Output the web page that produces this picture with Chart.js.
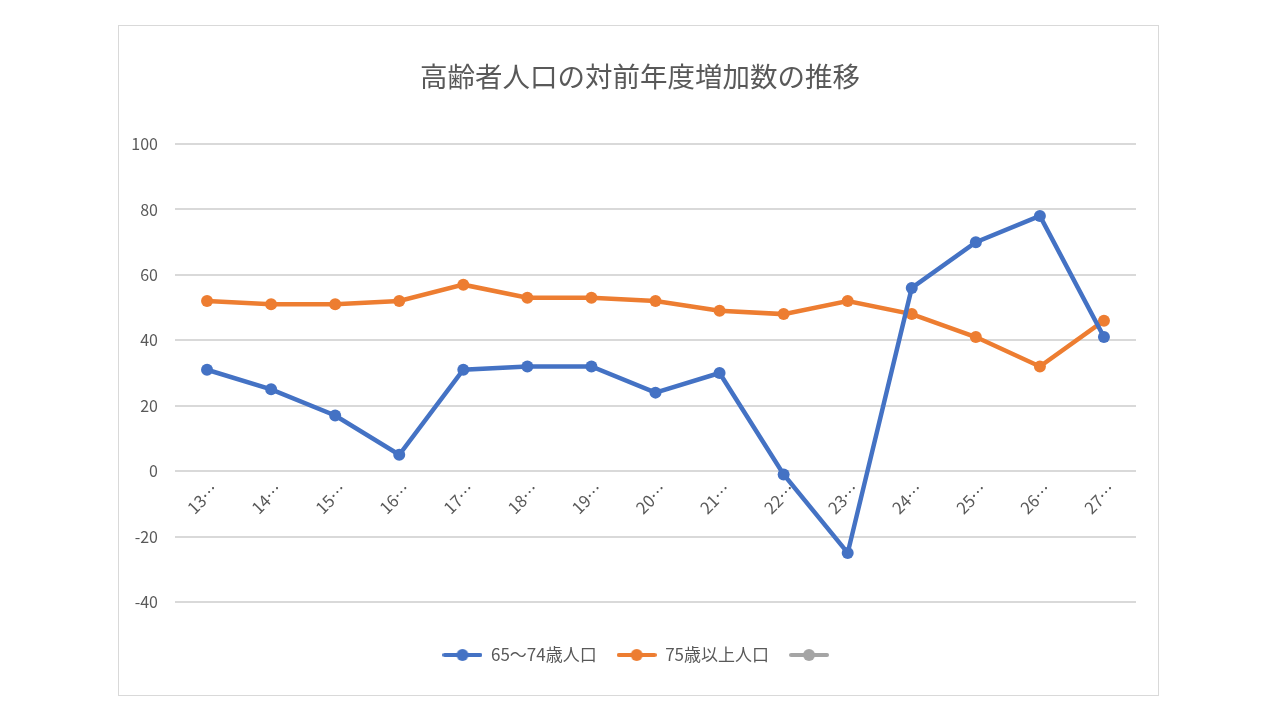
<!DOCTYPE html>
<html>
<head>
<meta charset="utf-8">
<script src="https://cdn.jsdelivr.net/npm/chart.js@4"></script>
<style>
  html, body { margin: 0; padding: 0; background: #ffffff; }
  canvas { display: block; }
</style>
</head>
<body>
<canvas id="c" width="1280" height="720"></canvas>
<script>
const chartTitle = '高齢者人口の対前年度増加数の推移';
const categories = ['13…','14…','15…','16…','17…','18…','19…','20…','21…','22…','23…','24…','25…','26…','27…'];
const seriesNames = ['65～74歳人口', '75歳以上人口', ''];
const young = [31, 25, 17, 5, 31, 32, 32, 24, 30, -1, -25, 56, 70, 78, 41];
const old = [52, 51, 51, 52, 57, 53, 53, 52, 49, 48, 52, 48, 41, 32, 46];
const third = [];
const yTicks = { min: -40, max: 100, step: 20 };

const colors = ['#4472C4', '#ED7D31', '#A5A5A5'];
const textColor = '#595959';
const gridColor = '#d9d9d9';
const FONT = '"Noto Sans CJK JP", "Noto Sans", sans-serif';

function legendIcon(color) {
  const cv = document.createElement('canvas');
  cv.width = 40; cv.height = 14;
  const g = cv.getContext('2d');
  g.strokeStyle = color; g.lineWidth = 4; g.lineCap = 'round';
  g.beginPath(); g.moveTo(2, 7); g.lineTo(38, 7); g.stroke();
  g.fillStyle = color;
  g.beginPath(); g.arc(20, 7, 6, 0, Math.PI * 2); g.fill();
  return cv;
}
const icons = colors.map(legendIcon);

const borderPlugin = {
  id: 'outerBorder',
  beforeDraw(chart) {
    const ctx = chart.ctx;
    ctx.save();
    ctx.fillStyle = '#ffffff';
    ctx.fillRect(0, 0, chart.width, chart.height);
    ctx.strokeStyle = gridColor;
    ctx.lineWidth = 1;
    ctx.strokeRect(118.5, 25.5, 1040, 670);
    ctx.restore();
  }
};

const seriesData = [young, old, third];
new Chart(document.getElementById('c'), {
  type: 'line',
  data: {
    labels: categories,
    datasets: seriesData.map((d, i) => ({
      label: seriesNames[i],
      data: d,
      borderColor: colors[i],
      backgroundColor: colors[i],
      borderWidth: 4.5,
      pointRadius: 6,
      pointHoverRadius: 6,
      pointBorderWidth: 0,
      tension: 0,
      xAxisID: 'x',
      yAxisID: 'y'
    }))
  },
  options: {
    responsive: false,
    animation: false,
    devicePixelRatio: 1,
    layout: { padding: { left: 131, right: 131, top: 25, bottom: 46.5 } },
    plugins: {
      tooltip: { enabled: false },
      title: {
        display: true,
        text: chartTitle,
        color: textColor,
        font: { family: FONT, size: 27.5, weight: 'normal' },
        padding: { top: 35.5, bottom: 50.5 }
      },
      legend: {
        display: true,
        position: 'bottom',
        title: { display: true, text: '', font: { size: 10, lineHeight: 1 }, padding: { top: 14.5, bottom: 0 } },
        labels: {
          usePointStyle: true,
          pointStyleWidth: 40,
          padding: 20,
          color: textColor,
          font: { family: FONT, size: 17 },
          generateLabels(chart) {
            return chart.data.datasets.map((ds, i) => ({
              text: ds.label,
              fillStyle: ds.borderColor,
              strokeStyle: ds.borderColor,
              fontColor: textColor,
              lineWidth: 0,
              pointStyle: icons[i],
              hidden: false,
              datasetIndex: i
            }));
          }
        }
      }
    },
    scales: {
      x: {
        type: 'category',
        position: { y: 0 },
        offset: true,
        grid: { display: false },
        border: { display: false },
        ticks: {
          color: textColor,
          font: { family: FONT, size: 16.5 },
          minRotation: 45,
          maxRotation: 45,
          padding: 0,
          labelOffset: 8,
          autoSkip: false
        }
      },
      y: {
        type: 'linear',
        position: 'left',
        min: yTicks.min,
        max: yTicks.max,
        afterFit(scale) { scale.width = 44; },
        grid: { color: gridColor, lineWidth: 2, drawTicks: false },
        border: { display: false },
        ticks: {
          stepSize: yTicks.step,
          color: textColor,
          font: { family: FONT, size: 16 },
          padding: 17
        }
      },
      y2: {
        type: 'linear',
        position: 'right',
        display: true,
        afterFit(scale) { scale.width = 13; },
        grid: { display: false, drawTicks: false },
        border: { display: false },
        ticks: { display: false }
      }
    }
  },
  plugins: [borderPlugin]
});
</script>
</body>
</html>
